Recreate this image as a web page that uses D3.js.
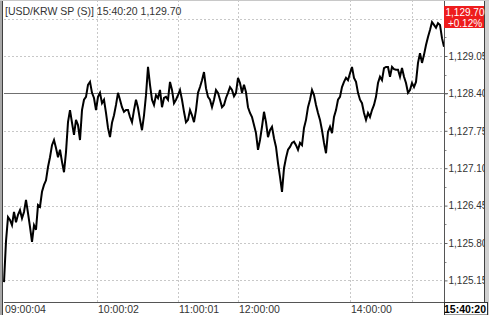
<!DOCTYPE html>
<html><head><meta charset="utf-8">
<script src="https://cdn.jsdelivr.net/npm/d3@7/dist/d3.min.js"></script>
<style>html,body{margin:0;padding:0;background:#fff;}svg{display:block;}</style>
</head><body>
<svg id="c" width="489" height="315"></svg>
<script>
// ---- data ----
const prices = [
1125.12,1125.83,1126.25,1126.20,1126.11,1126.34,1126.16,1126.29,1126.37,1126.23,
1126.34,1126.55,1126.32,1126.08,1125.82,1126.11,1126.03,1126.46,1126.43,1126.69,
1126.81,1126.89,1127.12,1127.29,1127.50,1127.59,1127.45,1127.29,1127.42,1127.21,
1127.03,1127.38,1127.90,1128.11,1127.89,1127.68,1127.94,1127.85,1127.59,1128.11,
1128.29,1128.34,1128.55,1128.60,1128.41,1128.32,1128.11,1128.34,1128.41,1128.23,
1128.29,1128.06,1127.80,1127.64,1127.89,1128.02,1128.20,1128.41,1128.29,1128.16,
1128.08,1128.11,1128.11,1127.99,1127.90,1128.11,1128.29,1128.15,1127.94,1127.76,
1128.02,1128.37,1128.86,1128.55,1128.29,1128.20,1128.37,1128.32,1128.46,1128.16,
1128.32,1128.34,1128.29,1128.60,1128.46,1128.23,1128.29,1128.37,1128.46,1128.29,
1128.08,1127.90,1127.94,1128.11,1128.02,1127.90,1128.11,1128.41,1128.51,1128.63,
1128.77,1128.49,1128.34,1128.29,1128.16,1128.29,1128.46,1128.41,1128.29,1128.16,
1128.20,1128.32,1128.41,1128.51,1128.46,1128.35,1128.41,1128.67,1128.58,1128.41,
1128.55,1128.42,1128.16,1128.06,1127.99,1127.85,1127.71,1127.42,1127.59,1127.82,
1128.08,1127.90,1127.64,1127.76,1127.82,1127.62,1127.47,1127.19,1126.95,1126.69,
1127.10,1127.28,1127.42,1127.47,1127.54,1127.56,1127.50,1127.42,1127.54,1127.50,
1127.80,1127.94,1128.16,1128.29,1128.46,1128.37,1128.20,1128.06,1127.94,1127.76,
1127.54,1127.36,1127.73,1127.82,1127.71,1127.99,1128.11,1128.29,1128.34,1128.51,
1128.60,1128.67,1128.63,1128.75,1128.86,1128.67,1128.60,1128.41,1128.29,1128.23,
1128.06,1127.94,1128.06,1127.99,1128.11,1128.20,1128.34,1128.58,1128.69,1128.63,
1128.84,1128.86,1128.86,1128.69,1128.86,1128.82,1128.81,1128.81,1128.69,1128.84,
1128.69,1128.58,1128.41,1128.46,1128.58,1128.51,1128.60,1128.93,1129.10,1128.93,
1129.07,1129.24,1129.38,1129.50,1129.64,1129.59,1129.54,1129.62,1129.59,1129.36,
1129.21
];
const timeLabels = ["09:00:04","10:00:02","11:00:01","12:00:00","14:00:00","15:40:20"];
const timeLabelIdx = [0, 46.5, 87, 117, 173, 220];
const timeGridIdx = [46.5, 87, 117, 173, 204];
const yTicks = [1125.15,1125.80,1126.45,1127.10,1127.75,1128.40,1129.05,1129.70];
const prevClose = 1128.40;
const lastPrice = 1129.70;
const changePct = 0.12;
const titleText = "[USD/KRW SP (S)] 15:40:20  1,129.70";

// ---- layout ----
const L = 4, R = 444, T = 0, B = 302;
const FONT = "'Liberation Sans', Arial, sans-serif";
const svg = d3.select("#c");
const x = d3.scaleLinear().domain([0, prices.length - 1]).range([L, R]);
const y = d3.scaleLinear().domain([1125.15, 1129.70]).range([280.4, 18.6]);
const fmt = d3.format(",.2f");

// grid
const g = svg.append("g");
g.selectAll("line.hg").data(yTicks.filter(v => v !== prevClose)).join("line")
  .attr("x1", L).attr("x2", R)
  .attr("y1", d => Math.round(y(d)) + 0.5).attr("y2", d => Math.round(y(d)) + 0.5)
  .attr("stroke", "#c8c8c8").attr("stroke-dasharray", "2,2");
g.selectAll("line.vg").data(timeGridIdx).join("line")
  .attr("x1", d => Math.round(x(d)) + 0.5).attr("x2", d => Math.round(x(d)) + 0.5)
  .attr("y1", T).attr("y2", B)
  .attr("stroke", "#c8c8c8").attr("stroke-dasharray", "2,2");

// prev close line
svg.append("line").attr("x1", L).attr("x2", R + 4)
  .attr("y1", Math.round(y(prevClose)) + 0.5).attr("y2", Math.round(y(prevClose)) + 0.5)
  .attr("stroke", "#707070");

// price line
const line = d3.line().x((d, i) => x(i)).y(d => y(d));
svg.append("path").datum(prices).attr("d", line)
  .attr("fill", "none").attr("stroke", "#000").attr("stroke-width", 2)
  .attr("stroke-linejoin", "miter");

// right axis (the top tick's label sits under the red price box, as in the reference)
const yAxis = d3.axisRight(y).tickValues(yTicks).tickSize(3)
  .tickFormat(d => d === lastPrice ? "" : fmt(d)).tickPadding(1);
const ya = svg.append("g").attr("transform", `translate(${R + 0.5},0)`).call(yAxis);
ya.select(".domain").remove();
ya.selectAll(".tick line").attr("stroke", "#666");
ya.selectAll(".tick text").attr("font-family", FONT).attr("font-size", "10px").attr("fill", "#333");
// minor ticks
const minor = [];
for (let i = 0; i < yTicks.length - 1; i++) minor.push((yTicks[i] + yTicks[i + 1]) / 2);
svg.selectAll("line.mt").data(minor).join("line")
  .attr("x1", R).attr("x2", R + 2.5)
  .attr("y1", d => Math.round(y(d)) + 0.5).attr("y2", d => Math.round(y(d)) + 0.5)
  .attr("stroke", "#888");
svg.append("line").attr("x1", R + 0.5).attr("x2", R + 0.5).attr("y1", T).attr("y2", B)
  .attr("stroke", "#555");

// bottom axis
svg.append("line").attr("x1", L).attr("x2", R).attr("y1", B + 0.5).attr("y2", B + 0.5).attr("stroke", "#555");
svg.selectAll("text.xl").data(timeLabels.slice(0, -1)).join("text")
  .attr("x", (d, i) => x(timeLabelIdx[i]) + 1).attr("y", 312.5)
  .attr("font-family", FONT).attr("font-size", "10.5px").attr("fill", "#333")
  .text(d => d);

// title
svg.append("text").attr("x", 5).attr("y", 15).attr("font-family", FONT)
  .attr("font-size", "10.5px").attr("fill", "#333").text(titleText);

// right border
svg.append("rect").attr("x", 485).attr("y", 0).attr("width", 4).attr("height", 315).attr("fill", "#d0d0d0");
svg.append("line").attr("x1", 484.5).attr("x2", 484.5).attr("y1", 0).attr("y2", 315).attr("stroke", "#404040");
// left border
svg.append("rect").attr("x", 0).attr("y", 0).attr("width", 2).attr("height", 315).attr("fill", "#a8a8a8");
svg.append("line").attr("x1", 2.5).attr("x2", 2.5).attr("y1", 0).attr("y2", 315).attr("stroke", "#404040");
svg.append("line").attr("x1", 0).attr("x2", 489).attr("y1", 0.5).attr("y2", 0.5).attr("stroke", "#c8c8c8");

// last time box
const lastI = timeLabels.length - 1;
svg.append("rect").attr("x", R + 0.5).attr("y", B + 0.5).attr("width", 43).attr("height", 12.5)
  .attr("fill", "#fff").attr("stroke", "#333");
svg.append("text").attr("x", 486).attr("y", 312.5).attr("text-anchor", "end")
  .attr("font-family", FONT).attr("font-size", "10.5px").attr("font-weight", "bold").attr("fill", "#000")
  .text(timeLabels[lastI]);

// red price box
const py = y(lastPrice);
svg.append("rect").attr("x", R).attr("y", py - 12.6).attr("width", 40).attr("height", 22).attr("fill", "#ee1c1c");
svg.append("text").attr("x", R + 21).attr("y", py - 2.8).attr("text-anchor", "middle")
  .attr("font-family", FONT).attr("font-size", "10px").attr("fill", "#fff").text(fmt(lastPrice));
svg.append("text").attr("x", R + 21).attr("y", py + 8.2).attr("text-anchor", "middle")
  .attr("font-family", FONT).attr("font-size", "10px").attr("fill", "#fff").text("+" + changePct.toFixed(2) + "%");
</script>
</body></html>
